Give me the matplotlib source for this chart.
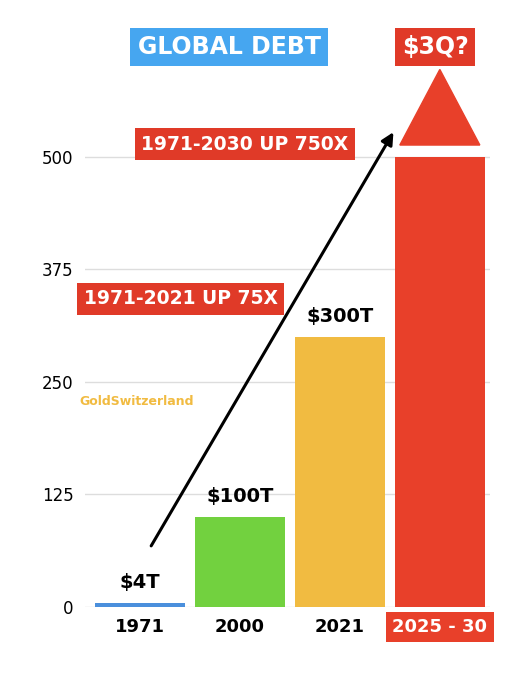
import matplotlib
matplotlib.use("Agg")
import matplotlib.pyplot as plt
from matplotlib.patches import Polygon

categories = ["1971", "2000", "2021", "2025 - 30"]
values = [4, 100, 300, 500]
value_labels = ["$4T", "$100T", "$300T", ""]
colors = ["#4a8fdc", "#72d13f", "#f1bb41", "#e8402a"]
yticks = [0, 125, 250, 375, 500]

fig = plt.figure(figsize=(5.2, 6.81), dpi=100)
ax = fig.add_axes([0.163, 0.109, 0.779, 0.793])
x = list(range(len(categories)))
ax.bar(x, values, width=0.9, color=colors, zorder=2)
ax.set_xlim(-0.55, 3.5)
ax.set_ylim(0, 600)
ax.set_yticks(yticks)
ax.set_yticklabels([str(t) for t in yticks], fontsize=12)
ax.grid(axis="y", color="#dddddd", lw=1, zorder=0)
for s in ax.spines.values():
    s.set_visible(False)
ax.tick_params(length=0, pad=8)
ax.set_xticks(x)
ax.set_xticklabels(categories, fontsize=13, fontweight="bold")
lab = ax.get_xticklabels()[3]
lab.set_color("white")
lab.set_bbox(dict(boxstyle="square,pad=0.35", fc="#e8402a", ec="none"))

for xi, v, t in zip(x, values, value_labels):
    if t:
        ax.text(xi, v + 12, t, ha="center", va="bottom", fontsize=14, fontweight="bold")

ax.add_patch(Polygon([[2.6, 513], [3.4, 513], [3.0, 597]], closed=True,
                     color="#e8402a", zorder=3, clip_on=False))

ax.annotate("", xy=(2.55, 530), xytext=(0.1, 65),
            arrowprops=dict(arrowstyle="-|>", color="black", lw=2.2, mutation_scale=18), zorder=4)

box = dict(boxstyle="square,pad=0.35", fc="#e03a28", ec="none")
ax.text(1.05, 514, "1971-2030 UP 750X", ha="center", va="center", fontsize=13.5,
        fontweight="bold", color="white", bbox=box, zorder=5)
ax.text(0.41, 342, "1971-2021 UP 75X", ha="center", va="center", fontsize=13.5,
        fontweight="bold", color="white", bbox=box, zorder=5, clip_on=False)
ax.text(-0.6, 228, "GoldSwitzerland", ha="left", va="center", fontsize=9,
        fontweight="bold", color="#f1bb41", clip_on=False)

fig.text(229/520, 1 - 47/681, "GLOBAL DEBT", ha="center", va="center", fontsize=17,
         fontweight="bold", color="white",
         bbox=dict(boxstyle="square,pad=0.3", fc="#46a6f0", ec="none"))
fig.text(435/520, 1 - 47/681, "$3Q?", ha="center", va="center", fontsize=17,
         fontweight="bold", color="white",
         bbox=dict(boxstyle="square,pad=0.3", fc="#e03a28", ec="none"))

fig.savefig("out.png", dpi=100)
